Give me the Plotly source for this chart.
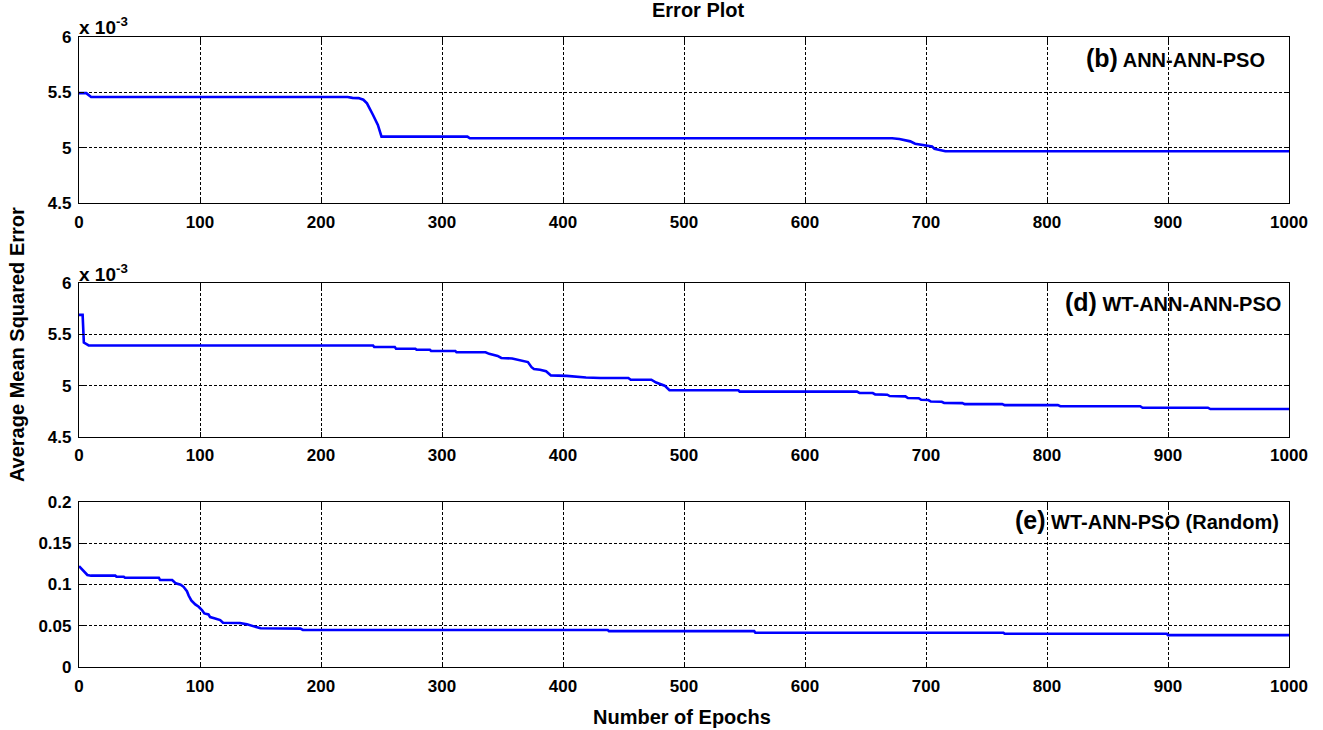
import plotly.graph_objects as go

# ---- data ----
epochs_b = [0, 6, 10, 222, 226, 231, 235, 238, 243, 247, 250, 321, 323, 672, 678, 687, 691, 695,
            699, 705, 707, 712, 716, 1000]
mse_b = [5.493e-3, 5.493e-3, 5.458e-3, 5.458e-3, 5.450e-3, 5.448e-3, 5.433e-3, 5.400e-3, 5.295e-3,
         5.205e-3, 5.100e-3, 5.100e-3, 5.085e-3, 5.085e-3, 5.078e-3, 5.057e-3, 5.036e-3, 5.030e-3,
         5.018e-3, 5.010e-3, 4.990e-3, 4.977e-3, 4.967e-3, 4.967e-3]

epochs_d = [0, 3, 4, 8, 243, 244, 261, 262, 278, 279, 290, 291, 311, 312, 336, 339, 346, 349, 358,
            365, 371, 374, 376, 381, 386, 390, 403, 419, 431, 454, 456, 473, 477, 484, 488, 545, 546,
            643, 645, 656, 658, 668, 670, 683, 685, 694, 696, 702, 704, 713, 715, 730, 732, 763, 765,
            809, 811, 877, 879, 933, 935, 1000]
mse_d = [5.690e-3, 5.690e-3, 5.420e-3, 5.392e-3, 5.392e-3, 5.376e-3, 5.376e-3, 5.360e-3, 5.360e-3,
         5.350e-3, 5.350e-3, 5.338e-3, 5.338e-3, 5.325e-3, 5.325e-3, 5.310e-3, 5.290e-3, 5.270e-3,
         5.265e-3, 5.250e-3, 5.230e-3, 5.180e-3, 5.163e-3, 5.155e-3, 5.140e-3, 5.100e-3, 5.095e-3,
         5.080e-3, 5.075e-3, 5.075e-3, 5.058e-3, 5.058e-3, 5.030e-3, 5.000e-3, 4.955e-3, 4.955e-3,
         4.942e-3, 4.942e-3, 4.930e-3, 4.928e-3, 4.915e-3, 4.912e-3, 4.899e-3, 4.896e-3, 4.880e-3,
         4.878e-3, 4.862e-3, 4.860e-3, 4.845e-3, 4.843e-3, 4.832e-3, 4.830e-3, 4.820e-3, 4.820e-3,
         4.810e-3, 4.810e-3, 4.800e-3, 4.800e-3, 4.785e-3, 4.785e-3, 4.772e-3, 4.772e-3]

epochs_e = [0, 3.6, 6.9, 10, 30, 31, 37, 38, 66, 67, 77, 80, 84, 86.4, 89.2, 90.6, 92.8, 96.1, 98.9,
            101.6, 103.6, 107, 108.4, 112.5, 116.7, 119, 133, 138.8, 144.4, 150, 183, 185, 437, 438,
            558, 559, 764, 765, 899, 900, 1000]
mse_e = [0.1220, 0.1157, 0.1113, 0.1105, 0.1105, 0.1092, 0.1092, 0.1080, 0.1080, 0.1052, 0.1052,
         0.1012, 0.0996, 0.0970, 0.0917, 0.0865, 0.0805, 0.0757, 0.0729, 0.0689, 0.0648, 0.0636,
         0.0604, 0.0588, 0.0568, 0.0536, 0.0532, 0.0516, 0.0496, 0.0468, 0.0464, 0.0448, 0.0448,
         0.0434, 0.0434, 0.0414, 0.0414, 0.0402, 0.0402, 0.0386, 0.0386]

x_ticks = list(range(0, 1001, 100))
y_ticks_small = [4.5e-3, 5e-3, 5.5e-3, 6e-3]
y_ticktext_small = ["4.5", "5", "5.5", "6"]
y_ticks_e = [0, 0.05, 0.1, 0.15, 0.2]
y_ticktext_e = ["0", "0.05", "0.1", "0.15", "0.2"]

label_tags = ["(b)", "(d)", "(e)"]
label_names = ["ANN-ANN-PSO", "WT-ANN-ANN-PSO", "WT-ANN-PSO (Random)"]

FONT = "Liberation Sans, Arial, sans-serif"
BLUE = "#0000FF"

fig = go.Figure()
series = [(epochs_b, mse_b), (epochs_d, mse_d), (epochs_e, mse_e)]
axes_names = ["", "2", "3"]
domains = [[0.7365, 1.0], [0.3651, 0.6095], [0.0, 0.2624]]

for (xs, ys), an in zip(series, axes_names):
    fig.add_trace(go.Scatter(x=xs, y=ys, mode="lines", xaxis="x" + an, yaxis="y" + an,
                             line=dict(color=BLUE, width=2.6), showlegend=False))

common_ax = dict(showline=True, linecolor="black", linewidth=1.2, mirror="ticks",
                 ticks="inside", ticklen=5, tickcolor="black", tickwidth=1,
                 showgrid=True, gridcolor="black", gridwidth=1, griddash="3px,2px",
                 zeroline=False, tickfont=dict(family=FONT, size=17, color="black"),
                 ticklabelstandoff=3)

layout = dict(width=1323, height=730, plot_bgcolor="white", paper_bgcolor="white",
              margin=dict(l=79, r=34, t=37, b=63), showlegend=False,
              font=dict(family=FONT, color="black"))

for i, an in enumerate(axes_names):
    xa = dict(common_ax, domain=[0, 1], range=[0, 1000], tickvals=x_ticks,
              ticktext=["<b>%d</b>" % v for v in x_ticks], anchor="y" + an)
    if i < 2:
        ya = dict(common_ax, domain=domains[i], range=[4.5e-3, 6e-3], tickvals=y_ticks_small,
                  ticktext=["<b>%s</b>" % t for t in y_ticktext_small], anchor="x" + an)
    else:
        ya = dict(common_ax, domain=domains[i], range=[0, 0.2], tickvals=y_ticks_e,
                  ticktext=["<b>%s</b>" % t for t in y_ticktext_e], anchor="x" + an)
    layout["xaxis" + an] = xa
    layout["yaxis" + an] = ya

fig.update_layout(**layout)

label_pos = [(0.9818, 0.9667), (0.9950, 0.5794), (0.9934, 0.2333)]
for tag, name, (px, py) in zip(label_tags, label_names, label_pos):
    fig.add_annotation(text="<b><span style='font-size:25px'>%s</span> %s</b>" % (tag, name),
                       xref="paper", yref="paper", x=px, y=py,
                       xanchor="right", yanchor="middle", showarrow=False,
                       font=dict(family=FONT, size=20, color="black"))

for py in [1.018, 0.626]:
    fig.add_annotation(text="<b>x 10<sup>-3</sup></b>", xref="paper", yref="paper", x=-0.002, y=py,
                       xanchor="left", yanchor="middle", showarrow=False,
                       font=dict(family=FONT, size=19, color="black"))

fig.add_annotation(text="<b>Error Plot</b>", xref="paper", yref="paper", x=0.5116, y=1.043,
                   xanchor="center", yanchor="middle", showarrow=False,
                   font=dict(family=FONT, size=20, color="black"))
fig.add_annotation(text="<b>Number of Epochs</b>", xref="paper", yref="paper", x=0.498, y=-0.079,
                   xanchor="center", yanchor="middle", showarrow=False,
                   font=dict(family=FONT, size=20, color="black"))
fig.add_annotation(text="<b>Average Mean Squared Error</b>", xref="paper", yref="paper",
                   x=-0.0512, y=0.511, xanchor="center", yanchor="middle", textangle=-90,
                   showarrow=False, font=dict(family=FONT, size=20, color="black"))

fig.write_html("out.html", config={"displayModeBar": False},
               post_script="document.body.style.margin='0px';")
